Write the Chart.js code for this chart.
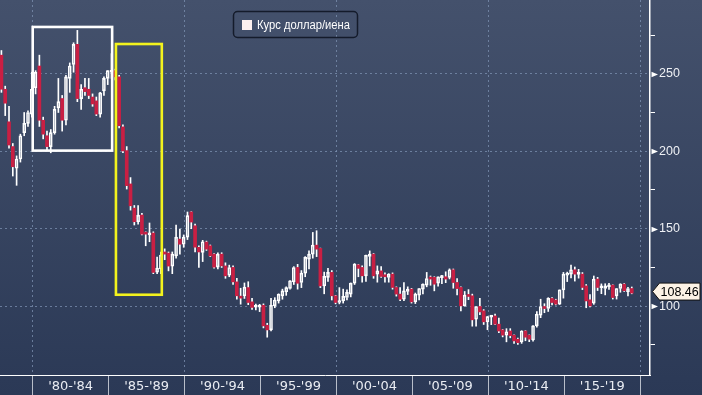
<!DOCTYPE html>
<html><head><meta charset="utf-8">
<script src="https://cdn.jsdelivr.net/npm/chart.js@4.4.0/dist/chart.umd.min.js"></script>
<style>html,body{margin:0;padding:0;background:#2c3a57;overflow:hidden}#wrap{width:702px;height:395px}</style>
</head><body><div id="wrap"><canvas id="c" width="702" height="395"></canvas></div>
<script>
// ---- data: USD/JPY quarterly candles, 1977 Q4 .. 2019 Q2 ----
const FIRST_YEAR = 1977, FIRST_QUARTER = 4, QUARTER_COUNT = 167;
const open = [262,
 240,219,203,189, 195,212,218,224, 241,255,220,210, 203,212,228,234, 220,247,256,269, 234,241,240,235, 232.5,224,239,247,
 251,252,248,215.7, 200.4,178.9,163.3,154.5, 158.8,147.5,146,147.2, 122,124,135,134.3, 125.9,132.5,143.3,140,
 144.6,160.8,151.9,138, 134.7,141.4,139,133.6, 125.2,133.6,126,120, 125,115.7,106,106.7, 112,102.8,99.3,99.4,
 100.6,87.7,84.7,100.2, 103.4,106.7,109.3,111.4, 115.7,125,115.3,121.3, 130.4,133.6,139.4,137.3, 113.1,118.6,121.8,106.7,
 102.4,103.4,105.6,107.8, 114.9,126.7,125,119.6, 132.1,133.6,120.7,122.8, 119.4,118.5,120.7,112.1, 107.8,104.5,109.5,111,
 102.8,107.1,111,113.6, 118.6,118.6,114.9,118.4, 119,118.6,123.5,115.3, 112.1,100.2,107.5,106.7, 91.6,99.8,97,89.9,
 93,93.7,88.4,84.7, 81.3,84,81.3,78.7, 77,84,81.3,78.2, 87.3,94.2,99.8,98.5, 105,104,101.3,110.5,
 120,120.7,123.5,120.5, 120.7,113.1,104.1,102, 117.5,111.9,111.4,112.5, 113.6,106.7,111.4,114.2, 109.3,111.4];
const high = [265,
 242,229,205,197, 211,225,226,251, 252,262,222,213, 214,229,247,236, 249,257,270,278, 243,247,247,237, 235,238,248,252,
 263,253,249,217, 203,183,165,165, 160,148,153.7,148, 131.7,135,137,135, 135,152.4,149.8,146,
 160.8,161,153,139, 142.5,142,139.5,134, 134.5,134.5,128,126.5, 126,118,111.6,115, 115.8,105,101.3,101.2,
 101.5,89,105,105.5, 108,111,112.5,116.6, 125.5,127,123,132, 135.7,147.6,148.7,137.5, 122,124.5,123,107,
 112,111,110.5,115, 127.5,127,126,133, 135.7,134,126,125.5, 121.5,121,121.5,112.5, 112,115.3,112.5,111.5,
 108.5,111.5,114.5,121.8, 119.5,119,119,119.9, 122.2,124.1,124,117.9, 112.5,109.5,110.7,107.8, 99.8,105,97.8,93.5,
 94,94.9,92.4,85, 85.5,85.5,81.5,79.5, 84.2,84.2,81.5,87.5, 96.6,104.5,101.6,105.5, 105.5,104.5,110.5,121.8,
 122,126.5,125.3,123.8, 121.7,114,107.5,119.5, 118.6,114.4,114.5,114.7, 113.8,111.4,114.5,114.6, 112.1,112.4];
const low = [238,
 223,202,184,178, 193,210,216,222, 237,216,208,201, 199,211,225,213, 217,238,251,232, 227,236,234,229, 223,222,236,243,
 247,246,215,199, 175.6,162,152.4,153, 146,139,141.6,121, 121,121,130,122.8, 121,131,133.6,138,
 143,150,135,125, 128.8,136,132,124.5, 124,125,118,119, 114,104.5,101.3,105, 101,98,97.6,96.5,
 86,80,84,99, 102,104.5,107,111, 114,111,112,119, 124,131,132,112, 108,116,104,101.5,
 101.5,102,104,106, 114,119,115.5,116, 126,118,115.5,118.5, 115.5,115.5,111,106.5, 103.5,103.5,107.5,102,
 101.7,104,108,112.5, 113.5,109.9,113,114.5, 115.2,117.6,111.6,107.2, 97,100,104.2,87.1, 87.1,94.5,88.2,84.8,
 88.1,88,82.9,80.2, 77,79.6,75.9,75.3, 76,77.7,77.1,77.4, 86.5,92.6,95.8,96.6, 100.8,100.8,101.1,105.2,
 115.9,118.3,116.2,118.1, 110.7,99,99.5,101.2, 110.1,108.1,107.3,110.8, 104.6,104.6,109,109.5, 106.7,108];
const close = [240,
 231,204,190,195, 210,218,225,240, 251,220,211,203, 212,227,232,220, 248,255,269,234, 240,238.5,236,230.5, 224,237.7,247,252,
 252,248,216.5,200.2, 177.8,164.8,154.5,158.8, 146.5,146.5,147,121.8, 124.6,133,133.6,125.9, 133.6,144.6,140,144.6,
 158.4,154.3,138.1,135, 141.6,136.8,132.5,125.2, 133.6,126,119.6,125, 115.7,106.7,105.2,112.3, 102.4,99.2,99.6,99.9,
 87.3,84.7,100.6,104, 107.7,109.9,112,116.4, 125,114.8,121.3,131.5, 133.6,139.4,136.8,113.1, 119.2,121.8,106.7,102.4,
 103.4,106.3,108.9,114.9, 127.2,124.4,119.6,132.9, 133.6,119.6,122.8,119.2, 119,120.7,112.1,107.8, 104.5,109.9,111,102.8,
 107.8,111.4,114.2,117.9, 117.5,114.2,118.9,119, 117.5,123.5,115.3,111.4, 100.2,107.1,106.3,91.2, 99.8,96.3,89.9,93.3,
 93.4,88.4,84,81.3, 83.5,81,77.6,76.5, 84,80,78.7,87.3, 94.8,99.8,98.5,105, 102.4,101.3,110.5,120.7,
 121.3,123.5,120.7,120.9, 112.1,103.4,100.2,117.5, 112.1,112.5,113.1,113.2, 105.6,111.4,114.2,110, 111.4,108.46];
const periodLabels = ["'80-'84","'85-'89","'90-'94","'95-'99","'00-'04","'05-'09","'10-'14","'15-'19"];
const periodStarts = [1980,1985,1990,1995,2000,2005,2010,2015,2020];
const yTickValues = [75,100,125,150,175,200,225,250,275];
const yLabelStep = 50;
const seriesName = 'Курс доллар/иена';
// highlighted periods (data space): [yearFrom, yearTo, valueLow, valueHigh]
const highlightWhite = [1980.0, 1985.23, 200.4, 280.2];
const highlightYellow = [1985.48, 1988.5, 107.4, 269.2];

// ---- styling ----
const X_MIN = 1977.847, X_MAX = 2020.64, Y_MIN = 55.6, Y_MAX = 297.6;
const CANDLE_SHIFT = 0.19; // candle position inside its quarter (years)
const RED = '#c91f43', WHITE = '#ffffff', GRID = 'rgba(125,145,178,0.75)';

const quarters = [];
for (let i = 0; i < QUARTER_COUNT; i++) {
  const n = FIRST_QUARTER - 1 + i;
  quarters.push({year: FIRST_YEAR + Math.floor(n / 4), q: (n % 4) + 1});
}
const xs = quarters.map(d => d.year + (d.q - 1) / 4 + CANDLE_SHIFT);
const isUp = close.map((c, i) => c >= open[i]);
const bodies = xs.map((x, i) => ({x, y: [open[i], close[i]]}));
const upperWicks = xs.map((x, i) => ({x, y: [Math.max(open[i], close[i]), high[i]]}));
const lowerWicks = xs.map((x, i) => ({x, y: [low[i], Math.min(open[i], close[i])]}));

const xTicks = [];
periodStarts.forEach((s, i) => { xTicks.push(s); if (i < periodLabels.length) xTicks.push(s + 2.5); });
const xLabelFor = v => { const i = periodStarts.findIndex(s => Math.abs(s + 2.5 - v) < 1e-6); return i >= 0 ? periodLabels[i] : ''; };

const bgPlugin = {
  id: 'bg',
  beforeDraw(chart) {
    const {ctx, width, height} = chart;
    const g = ctx.createLinearGradient(0, 0, 0, height);
    g.addColorStop(0, '#44516c');
    g.addColorStop(1, '#2b3956');
    ctx.save(); ctx.fillStyle = g; ctx.fillRect(0, 0, width, height); ctx.restore();
  }
};
const boxPlugin = {
  id: 'boxes',
  afterDatasetsDraw(chart) {
    const {ctx, scales: {x, y}} = chart;
    const draw = (b, color) => {
      const x0 = x.getPixelForValue(b[0]), x1 = x.getPixelForValue(b[1]);
      const y0 = y.getPixelForValue(b[3]), y1 = y.getPixelForValue(b[2]);
      ctx.save(); ctx.strokeStyle = color; ctx.lineWidth = 2.6;
      ctx.strokeRect(x0, y0, x1 - x0, y1 - y0); ctx.restore();
    };
    draw(highlightWhite, '#ffffff');
    draw(highlightYellow, '#f3f31d');
  }
};
const overlayPlugin = {
  id: 'overlay',
  afterDraw(chart) {
    const {ctx, scales: {y}} = chart;
    const ax = chart.chartArea.right;
    ctx.save();
    ctx.fillStyle = WHITE;
    yTickValues.filter(v => v % yLabelStep === 0).forEach(v => {
      const py = Math.round(y.getPixelForValue(v)) + 0.5;
      ctx.beginPath(); ctx.moveTo(ax + 1.5, py - 2.8); ctx.lineTo(ax + 8, py); ctx.lineTo(ax + 1.5, py + 2.8); ctx.closePath(); ctx.fill();
    });
    const last = close[close.length - 1];
    const py = y.getPixelForValue(last) - 1.5;
    ctx.beginPath();
    ctx.moveTo(ax + 2.5, py); ctx.lineTo(ax + 9.5, py - 8.5); ctx.lineTo(chart.width - 2, py - 8.5);
    ctx.lineTo(chart.width - 2, py + 8.5); ctx.lineTo(ax + 9.5, py + 8.5); ctx.closePath();
    ctx.fillStyle = '#fdf3e6'; ctx.fill();
    ctx.strokeStyle = '#111'; ctx.lineWidth = 1; ctx.stroke();
    ctx.fillStyle = '#000'; ctx.font = '12.5px "Liberation Sans"'; ctx.textBaseline = 'middle'; ctx.textAlign = 'left';
    ctx.fillText(last.toFixed(2), ax + 10.5, py + 0.5);
    const lx = 233.5, ly = 11.5, lw = 124, lh = 26;
    ctx.beginPath(); ctx.roundRect(lx, ly, lw, lh, 4);
    ctx.strokeStyle = '#141b2b'; ctx.lineWidth = 1.5; ctx.stroke();
    ctx.fillStyle = '#fdf0ef'; ctx.fillRect(242, 20, 10, 10);
    ctx.fillStyle = WHITE; ctx.font = '12.5px "Liberation Sans"'; ctx.textBaseline = 'middle';
    ctx.fillText(seriesName, 257, 25.5, 93);
    ctx.restore();
  }
};

new Chart(document.getElementById('c'), {
  type: 'bar',
  data: {
    datasets: [
      {data: bodies, order: 0, grouped: false, barThickness: 3, minBarLength: 2, borderSkipped: false,
       backgroundColor: c => isUp[c.dataIndex] ? 'rgba(0,0,0,0)' : RED,
       borderColor: c => isUp[c.dataIndex] ? WHITE : RED,
       borderWidth: c => isUp[c.dataIndex] ? 1 : 0},
      {data: upperWicks, order: 1, grouped: false, barThickness: 1, backgroundColor: WHITE, borderWidth: 0},
      {data: lowerWicks, order: 1, grouped: false, barThickness: 1, backgroundColor: WHITE, borderWidth: 0}
    ]
  },
  options: {
    responsive: false, animation: false, devicePixelRatio: 1,
    layout: {padding: 0},
    plugins: {legend: {display: false}, tooltip: {enabled: false}},
    scales: {
      x: {
        type: 'linear', position: 'bottom', min: X_MIN, max: X_MAX, offset: false,
        afterBuildTicks: s => { s.ticks = xTicks.map(v => ({value: v})); },
        afterFit: s => { s.height = 20; s.paddingLeft = 0; s.paddingRight = 0; },
        ticks: {autoSkip: false, maxRotation: 0, minRotation: 0, padding: -16, color: '#e9ecf2',
                font: {family: 'DejaVu Sans', size: 13}, callback: v => xLabelFor(v)},
        grid: {offset: false, drawTicks: true, tickLength: 20, lineWidth: 1,
               color: c => (c.tick && c.tick.value % 10 === 0) ? GRID : 'rgba(0,0,0,0)',
               tickColor: c => (c.tick && c.tick.value % 5 === 0) ? '#b8bec9' : 'rgba(0,0,0,0)'},
        border: {display: true, color: WHITE, width: 1, dash: [2, 3]}
      },
      y: {
        type: 'linear', position: 'right', min: Y_MIN, max: Y_MAX,
        afterBuildTicks: s => { s.ticks = yTickValues.map(v => ({value: v})); },
        afterFit: s => { s.width = 52; s.paddingTop = 0; s.paddingBottom = 0; },
        ticks: {autoSkip: false, padding: 4, color: '#eef0f4', font: {family: 'Liberation Sans', size: 12.5},
                callback: v => v % yLabelStep === 0 ? String(v) : ''},
        grid: {drawTicks: true, tickLength: 5, lineWidth: 1,
               color: c => (c.tick && c.tick.value % yLabelStep === 0) ? GRID : 'rgba(0,0,0,0)',
               tickColor: c => (c.tick && c.tick.value % yLabelStep === 0) ? 'rgba(0,0,0,0)' : WHITE},
        border: {display: true, color: WHITE, width: 1.5, dash: [2, 3]}
      }
    }
  },
  plugins: [bgPlugin, boxPlugin, overlayPlugin]
});
</script>
</body></html>
